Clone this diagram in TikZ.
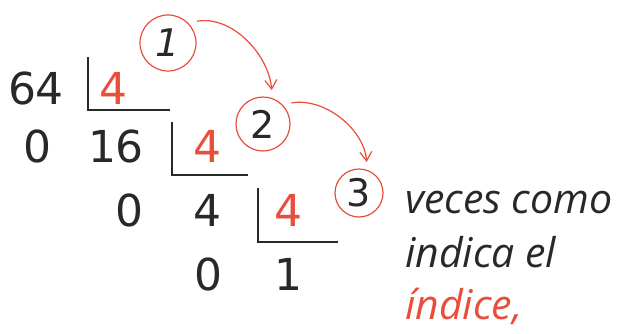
\documentclass[tikz,border=0pt]{standalone}
\usepackage{fontspec}
\setmainfont{DejaVu Sans}
\newfontfamily\notefont{Open Sans}
\usetikzlibrary{arrows.meta}

\definecolor{markred}{RGB}{232,78,58}
\definecolor{inkgray}{RGB}{40,40,40}

\begin{document}
\begin{tikzpicture}[
    x=1pt, y=-1pt,
    digit/.style={inner sep=0pt, font=\fontsize{44}{44}\selectfont, text=inkgray},
    divisor/.style={digit, text=markred},
    bracket/.style={line width=2.4pt, inkgray},
    stepmark/.style={draw=markred, line width=1.2pt, circle, inner sep=0pt,
                     minimum size=#1, font=\fontsize{38}{38}\selectfont, text=inkgray},
    hop/.style={-{Straight Barb[length=9pt, width=12pt]}, markred, line width=1.2pt,
                shorten <=9pt, shorten >=8pt},
    note/.style={inner sep=0pt, anchor=base west, text=inkgray,
                 font=\notefont\itshape\fontsize{41}{41}\selectfont},
]
\useasboundingbox (0,0) rectangle (630,333);

% --- successive divisions ---
\node[digit] (n64) at (36,88) {64};
\node[divisor] (d1) at (113,88) {4};
\draw[bracket] (88,57) -- (88,110) -- (170,110);

\node[digit] (r1) at (37,146) {0};
\node[digit] (n16) at (116,146) {16};
\node[divisor] (d2) at (207,146) {4};
\draw[bracket] (172,122) -- (172,175) -- (248,175);

\node[digit] (r2) at (129,210) {0};
\node[digit] (n4) at (207,210) {4};
\node[divisor] (d3) at (288,210) {4};
\draw[bracket] (258,188) -- (258,242) -- (338,242);

\node[digit] (r3) at (208,274) {0};
\node[digit] (q) at (288,274) {1};

% --- counting marks ---
\node[stepmark=56pt] (c1) at (168,43) {\itshape 1};
\node[stepmark=54pt] (c2) at (263,124) {2};
\node[stepmark=48pt] (c3) at (359,193) {3};

\draw[hop] (c1.45) to[out=10, in=95] (c2.70);
\draw[hop] (c2.45) to[out=10, in=95] (c3.70);

% --- note ---
\node[note] (l1) at (405,213) {veces como};
\node[note] (l2) at (405,267) {indica el};
\node[note, text=markred] (l3) at (405,319) {índice,};
\end{tikzpicture}
\end{document}
